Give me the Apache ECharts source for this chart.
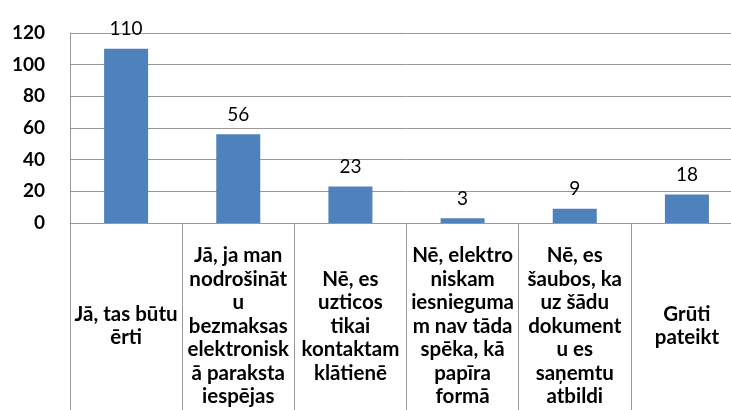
<!DOCTYPE html>
<html><head><meta charset="utf-8">
<script src="https://cdn.jsdelivr.net/npm/echarts@6/dist/echarts.min.js"></script>
<style>html,body{margin:0;padding:0;background:#fff;overflow:hidden}#c{width:744px;height:410px}</style>
</head><body><div id="c"></div>
<script>
const categories = [
  "Jā, tas būtu\nērti",
  "Jā, ja man\nnodrošināt\nu\nbezmaksas\nelektronisk\nā paraksta\niespējas",
  "Nē, es\nuzticos\ntikai\nkontaktam\nklātienē",
  "Nē, elektro\nniskam\niesnieguma\nm nav tāda\nspēka, kā\npapīra\nformā",
  "Nē, es\nšaubos, ka\nuz šādu\ndokument\nu es\nsaņemtu\natbildi",
  "Grūti\npateikt"
];
const values = [110, 56, 23, 3, 9, 18];
const yTicks = [0, 20, 40, 60, 80, 100, 120];

const chart = echarts.init(document.getElementById('c'), null, {renderer: 'canvas'});
const fontFamily = 'Lato, "Open Sans", sans-serif';
chart.setOption({
  animation: false,
  grid: {left: 70, top: 33, width: 673, height: 190, containLabel: false, outerBoundsMode: 'none'},
  xAxis: {
    type: 'category',
    data: categories,
    axisLine: {show: true, lineStyle: {color: '#999', width: 1}},
    axisTick: {show: true, length: 195, lineStyle: {color: '#999', width: 1}},
    axisLabel: {
      interval: 0,
      margin: 103,
      verticalAlign: 'middle',
      align: 'center',
      color: '#000',
      fontFamily: fontFamily,
      fontWeight: 'bold',
      fontSize: 20.5,
      lineHeight: 23.5
    }
  },
  yAxis: {
    type: 'value',
    min: yTicks[0],
    max: yTicks[yTicks.length - 1],
    interval: yTicks[1] - yTicks[0],
    axisLine: {show: true, lineStyle: {color: '#999', width: 1}},
    axisTick: {show: false},
    splitLine: {show: true, lineStyle: {color: '#999', width: 1}},
    axisLabel: {
      margin: 25,
      color: '#000',
      fontFamily: fontFamily,
      fontWeight: 'bold',
      fontSize: 19
    }
  },
  series: [{
    type: 'bar',
    data: values,
    barWidth: 44,
    itemStyle: {color: '#4F81BD'},
    label: {
      show: true,
      position: 'top',
      distance: 10,
      color: '#000',
      fontFamily: fontFamily,
      fontSize: 19
    }
  }]
});
</script></body></html>
